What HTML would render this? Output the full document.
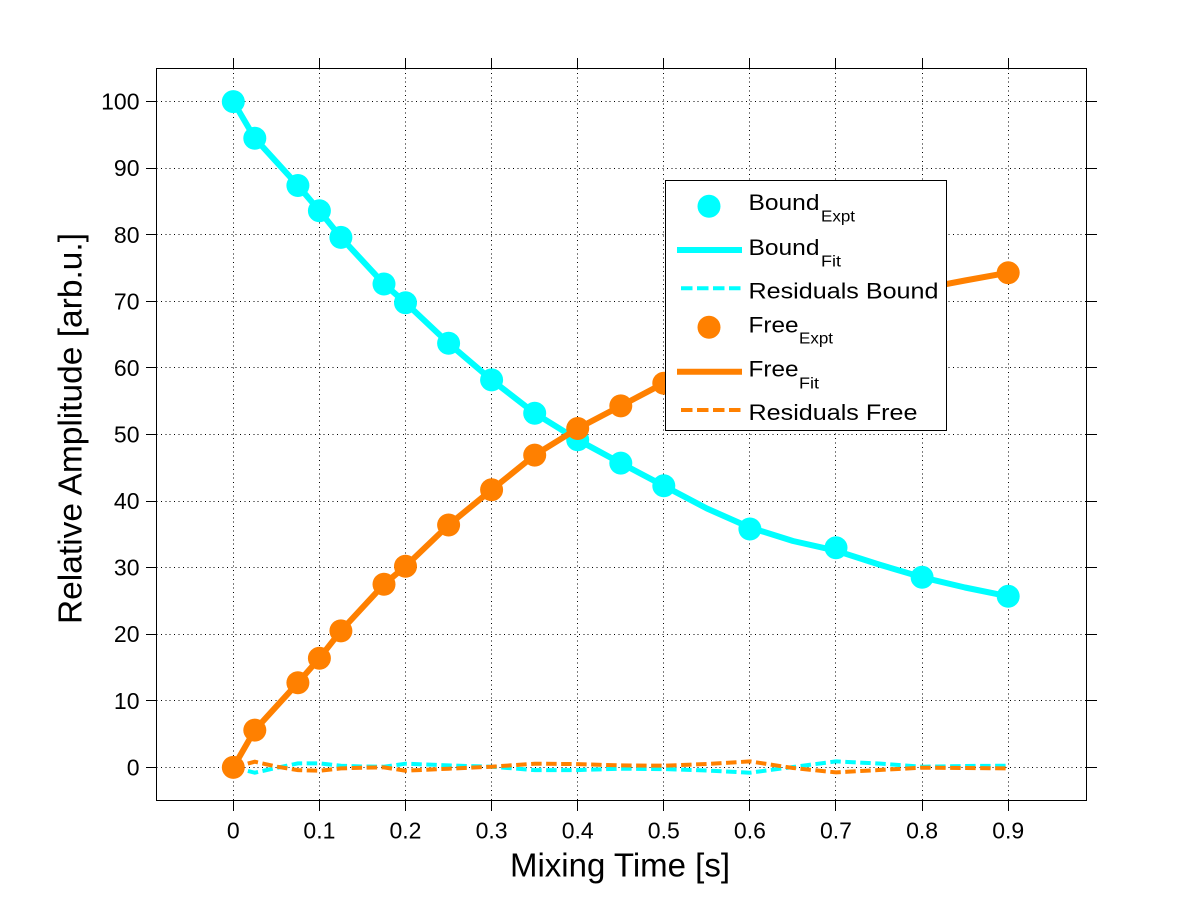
<!DOCTYPE html>
<html>
<head>
<meta charset="utf-8">
<style>
  html, body { margin: 0; padding: 0; background: #ffffff; }
  svg { display: block; }
  text { font-family: "Liberation Sans", Arial, sans-serif; fill: #000; }
</style>
</head>
<body>
<svg width="1200" height="900" viewBox="0 0 1200 900" xmlns="http://www.w3.org/2000/svg">
  <rect x="0" y="0" width="1200" height="900" fill="#ffffff"/>

  <!-- grid -->
  <g stroke="#000" stroke-width="1" stroke-dasharray="1 3.4" fill="none" shape-rendering="crispEdges">
    <line x1="233.5" y1="68.5" x2="233.5" y2="800.5"/>
    <line x1="319.5" y1="68.5" x2="319.5" y2="800.5"/>
    <line x1="405.5" y1="68.5" x2="405.5" y2="800.5"/>
    <line x1="491.5" y1="68.5" x2="491.5" y2="800.5"/>
    <line x1="577.5" y1="68.5" x2="577.5" y2="800.5"/>
    <line x1="663.5" y1="68.5" x2="663.5" y2="800.5"/>
    <line x1="749.5" y1="68.5" x2="749.5" y2="800.5"/>
    <line x1="835.5" y1="68.5" x2="835.5" y2="800.5"/>
    <line x1="922.5" y1="68.5" x2="922.5" y2="800.5"/>
    <line x1="1008.5" y1="68.5" x2="1008.5" y2="800.5"/>

    <line x1="156.5" y1="101.5" x2="1086.5" y2="101.5"/>
    <line x1="156.5" y1="168.5" x2="1086.5" y2="168.5"/>
    <line x1="156.5" y1="234.5" x2="1086.5" y2="234.5"/>
    <line x1="156.5" y1="301.5" x2="1086.5" y2="301.5"/>
    <line x1="156.5" y1="367.5" x2="1086.5" y2="367.5"/>
    <line x1="156.5" y1="434.5" x2="1086.5" y2="434.5"/>
    <line x1="156.5" y1="501.5" x2="1086.5" y2="501.5"/>
    <line x1="156.5" y1="567.5" x2="1086.5" y2="567.5"/>
    <line x1="156.5" y1="634.5" x2="1086.5" y2="634.5"/>
    <line x1="156.5" y1="700.5" x2="1086.5" y2="700.5"/>
    <line x1="156.5" y1="767.5" x2="1086.5" y2="767.5"/>
  </g>

  <!-- axes box -->
  <rect x="156.5" y="68.5" width="930" height="732" fill="none" stroke="#000" stroke-width="1" shape-rendering="crispEdges"/>

  <!-- ticks (outward) -->
  <g stroke="#000" stroke-width="1" shape-rendering="crispEdges">
    <!-- bottom -->
    <line x1="233.5" y1="800.5" x2="233.5" y2="811"/>
    <line x1="319.5" y1="800.5" x2="319.5" y2="811"/>
    <line x1="405.5" y1="800.5" x2="405.5" y2="811"/>
    <line x1="491.5" y1="800.5" x2="491.5" y2="811"/>
    <line x1="577.5" y1="800.5" x2="577.5" y2="811"/>
    <line x1="663.5" y1="800.5" x2="663.5" y2="811"/>
    <line x1="749.5" y1="800.5" x2="749.5" y2="811"/>
    <line x1="835.5" y1="800.5" x2="835.5" y2="811"/>
    <line x1="922.5" y1="800.5" x2="922.5" y2="811"/>
    <line x1="1008.5" y1="800.5" x2="1008.5" y2="811"/>
    <!-- top -->
    <line x1="233.5" y1="68.5" x2="233.5" y2="58"/>
    <line x1="319.5" y1="68.5" x2="319.5" y2="58"/>
    <line x1="405.5" y1="68.5" x2="405.5" y2="58"/>
    <line x1="491.5" y1="68.5" x2="491.5" y2="58"/>
    <line x1="577.5" y1="68.5" x2="577.5" y2="58"/>
    <line x1="663.5" y1="68.5" x2="663.5" y2="58"/>
    <line x1="749.5" y1="68.5" x2="749.5" y2="58"/>
    <line x1="835.5" y1="68.5" x2="835.5" y2="58"/>
    <line x1="922.5" y1="68.5" x2="922.5" y2="58"/>
    <line x1="1008.5" y1="68.5" x2="1008.5" y2="58"/>
    <!-- left -->
    <line x1="156.5" y1="101.5" x2="146" y2="101.5"/>
    <line x1="156.5" y1="168.5" x2="146" y2="168.5"/>
    <line x1="156.5" y1="234.5" x2="146" y2="234.5"/>
    <line x1="156.5" y1="301.5" x2="146" y2="301.5"/>
    <line x1="156.5" y1="367.5" x2="146" y2="367.5"/>
    <line x1="156.5" y1="434.5" x2="146" y2="434.5"/>
    <line x1="156.5" y1="501.5" x2="146" y2="501.5"/>
    <line x1="156.5" y1="567.5" x2="146" y2="567.5"/>
    <line x1="156.5" y1="634.5" x2="146" y2="634.5"/>
    <line x1="156.5" y1="700.5" x2="146" y2="700.5"/>
    <line x1="156.5" y1="767.5" x2="146" y2="767.5"/>
    <!-- right -->
    <line x1="1086.5" y1="101.5" x2="1097" y2="101.5"/>
    <line x1="1086.5" y1="168.5" x2="1097" y2="168.5"/>
    <line x1="1086.5" y1="234.5" x2="1097" y2="234.5"/>
    <line x1="1086.5" y1="301.5" x2="1097" y2="301.5"/>
    <line x1="1086.5" y1="367.5" x2="1097" y2="367.5"/>
    <line x1="1086.5" y1="434.5" x2="1097" y2="434.5"/>
    <line x1="1086.5" y1="501.5" x2="1097" y2="501.5"/>
    <line x1="1086.5" y1="567.5" x2="1097" y2="567.5"/>
    <line x1="1086.5" y1="634.5" x2="1097" y2="634.5"/>
    <line x1="1086.5" y1="700.5" x2="1097" y2="700.5"/>
    <line x1="1086.5" y1="767.5" x2="1097" y2="767.5"/>
  </g>

  <!-- y tick labels -->
  <g font-size="23" text-anchor="end">
    <text x="139.5" y="109.6">100</text>
    <text x="139.5" y="176.2">90</text>
    <text x="139.5" y="242.8">80</text>
    <text x="139.5" y="309.3">70</text>
    <text x="139.5" y="375.9">60</text>
    <text x="139.5" y="442.5">50</text>
    <text x="139.5" y="509.1">40</text>
    <text x="139.5" y="575.7">30</text>
    <text x="139.5" y="642.2">20</text>
    <text x="139.5" y="708.8">10</text>
    <text x="139.5" y="775.4">0</text>
  </g>

  <!-- x tick labels -->
  <g font-size="23" text-anchor="middle">
    <text x="233.3" y="838.5">0</text>
    <text x="319.4" y="838.5">0.1</text>
    <text x="405.5" y="838.5">0.2</text>
    <text x="491.6" y="838.5">0.3</text>
    <text x="577.7" y="838.5">0.4</text>
    <text x="663.8" y="838.5">0.5</text>
    <text x="749.9" y="838.5">0.6</text>
    <text x="836.0" y="838.5">0.7</text>
    <text x="922.1" y="838.5">0.8</text>
    <text x="1008.2" y="838.5">0.9</text>
  </g>

  <!-- axis labels -->
  <text x="620" y="876.5" font-size="33" text-anchor="middle">Mixing Time [s]</text>
  <text transform="translate(81.7,428.5) rotate(-90)" font-size="33.5" text-anchor="middle">Relative Amplitude [arb.u.]</text>

  <!-- Bound expt markers -->
  <g fill="#00ffff">
    <circle cx="233.3" cy="101.6" r="11.5"/>
    <circle cx="254.8" cy="138.2" r="11.5"/>
    <circle cx="297.9" cy="185.5" r="11.5"/>
    <circle cx="319.4" cy="210.8" r="11.5"/>
    <circle cx="340.9" cy="237.4" r="11.5"/>
    <circle cx="384.0" cy="284.0" r="11.5"/>
    <circle cx="405.5" cy="302.7" r="11.5"/>
    <circle cx="448.6" cy="343.3" r="11.5"/>
    <circle cx="491.6" cy="379.9" r="11.5"/>
    <circle cx="534.7" cy="413.2" r="11.5"/>
    <circle cx="577.7" cy="439.8" r="11.5"/>
    <circle cx="620.8" cy="463.1" r="11.5"/>
    <circle cx="663.8" cy="485.8" r="11.5"/>
    <circle cx="749.9" cy="529.0" r="11.5"/>
    <circle cx="836.0" cy="547.7" r="11.5"/>
    <circle cx="922.1" cy="577.3" r="11.5"/>
    <circle cx="1008.2" cy="596.3" r="11.5"/>
  </g>
  <!-- Bound fit -->
  <polyline fill="none" stroke="#00ffff" stroke-width="6" stroke-linejoin="round"
    points="233.3,101.6 254.8,138.2 297.9,185.5 319.4,210.8 340.9,237.4 384.0,284.0 405.5,302.7 448.6,343.3 491.6,379.9 534.7,413.2 577.7,439.8 620.8,463.1 663.8,485.8 706.9,508.5 749.9,527.5 793,541 836.0,550.7 879,564.5 922.1,577.3 965,587.5 1008.2,596.3"/>
  <!-- Residuals Bound -->
  <polyline fill="none" stroke="#00ffff" stroke-width="4" stroke-dasharray="10.5 4.5"
    points="233.3,767.4 254.8,772.7 276,768 297.9,763.4 319.4,763.4 340.9,765.7 362,766.5 384.0,766.7 405.5,763.7 448.6,765.4 491.6,766.7 534.7,770.1 577.7,770.1 620.8,768.7 663.8,769.1 707,770.5 749.9,772.7 793,767 836.0,761.4 879,763.5 922.1,766.7 965,766 1008.2,765.7"/>

  <!-- Free expt markers -->
  <g fill="#ff8000">
    <circle cx="233.3" cy="767.4" r="11.5"/>
    <circle cx="254.8" cy="730.1" r="11.5"/>
    <circle cx="297.9" cy="682.8" r="11.5"/>
    <circle cx="319.4" cy="658.2" r="11.5"/>
    <circle cx="340.9" cy="630.9" r="11.5"/>
    <circle cx="384.0" cy="584.3" r="11.5"/>
    <circle cx="405.5" cy="566.3" r="11.5"/>
    <circle cx="448.6" cy="525.0" r="11.5"/>
    <circle cx="491.6" cy="489.8" r="11.5"/>
    <circle cx="534.7" cy="455.1" r="11.5"/>
    <circle cx="577.7" cy="428.5" r="11.5"/>
    <circle cx="620.8" cy="405.9" r="11.5"/>
    <circle cx="663.8" cy="383.2" r="11.5"/>
    <circle cx="749.9" cy="340.0" r="11.5"/>
    <circle cx="836.0" cy="321.3" r="11.5"/>
    <circle cx="922.1" cy="288.7" r="11.5"/>
    <circle cx="1008.2" cy="272.7" r="11.5"/>
  </g>
  <!-- Free fit -->
  <polyline fill="none" stroke="#ff8000" stroke-width="6" stroke-linejoin="round"
    points="233.3,767.4 254.8,730.1 297.9,682.8 319.4,658.2 340.9,630.9 384.0,584.3 405.5,566.3 448.6,525.0 491.6,489.8 534.7,455.1 577.7,428.5 620.8,405.9 663.8,383.2 706.9,361 749.9,341 793,325 836.0,317 879,302 922.1,288.7 965,280.5 1008.2,272.7"/>
  <!-- Residuals Free -->
  <polyline fill="none" stroke="#ff8000" stroke-width="4" stroke-dasharray="10.5 4.5"
    points="233.3,767.4 254.8,761.7 276,766.5 297.9,770.1 319.4,770.7 340.9,768.4 362,767.7 384.0,767.4 405.5,770.7 448.6,768.7 491.6,766.7 534.7,763.7 577.7,764.1 620.8,765.4 663.8,765.7 707,764 749.9,761.4 793,768 836.0,772.4 879,770 922.1,767.7 965,768 1008.2,768.4"/>

  <!-- Legend -->
  <rect x="665.5" y="180.5" width="281" height="250" fill="#ffffff" stroke="#000" stroke-width="1" shape-rendering="crispEdges"/>
  <circle cx="709" cy="206.3" r="11.5" fill="#00ffff"/>
  <line x1="677" y1="250" x2="742" y2="250" stroke="#00ffff" stroke-width="6"/>
  <line x1="681" y1="288.3" x2="742" y2="288.3" stroke="#00ffff" stroke-width="4" stroke-dasharray="11.5 4.5"/>
  <circle cx="709" cy="327.3" r="11.5" fill="#ff8000"/>
  <line x1="677" y1="371.7" x2="742" y2="371.7" stroke="#ff8000" stroke-width="6"/>
  <line x1="681" y1="410" x2="742" y2="410" stroke="#ff8000" stroke-width="4" stroke-dasharray="11.5 4.5"/>

  <g font-size="22">
    <text x="748.5" y="210" textLength="71" lengthAdjust="spacingAndGlyphs">Bound</text>
    <text x="821" y="221.7" font-size="16" textLength="34" lengthAdjust="spacingAndGlyphs">Expt</text>

    <text x="748.5" y="255" textLength="71" lengthAdjust="spacingAndGlyphs">Bound</text>
    <text x="821" y="266.7" font-size="16" textLength="20" lengthAdjust="spacingAndGlyphs">Fit</text>

    <text x="748.5" y="298.3" textLength="190" lengthAdjust="spacingAndGlyphs">Residuals Bound</text>

    <text x="748.5" y="332.3" textLength="50" lengthAdjust="spacingAndGlyphs">Free</text>
    <text x="799" y="343.3" font-size="16" textLength="34" lengthAdjust="spacingAndGlyphs">Expt</text>

    <text x="748.5" y="376.7" textLength="50" lengthAdjust="spacingAndGlyphs">Free</text>
    <text x="799" y="388.3" font-size="16" textLength="20" lengthAdjust="spacingAndGlyphs">Fit</text>

    <text x="748.5" y="420" textLength="169" lengthAdjust="spacingAndGlyphs">Residuals Free</text>
  </g>
</svg>
</body>
</html>
